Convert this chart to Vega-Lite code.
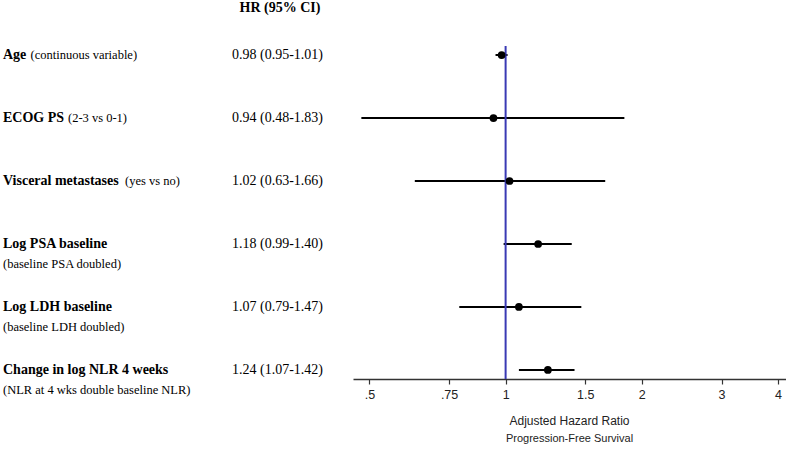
{
  "$schema": "https://vega.github.io/schema/vega-lite/v6.json",
  "padding": {"left": 0, "top": 1, "right": 0, "bottom": 0},
  "autosize": {"type": "pad"},
  "background": "white",
  "spacing": 0,
  "config": {"view": {"stroke": null}, "concat": {"spacing": 0}},
  "datasets": {
    "rows": [
      {"row": 0, "label": "Age", "note": "(continuous variable)", "inline": true, "hrText": "0.98 (0.95-1.01)", "hr": 0.98, "lo": 0.95, "hi": 1.01},
      {"row": 1, "label": "ECOG PS", "note": "(2-3 vs 0-1)", "inline": true, "hrText": "0.94 (0.48-1.83)", "hr": 0.94, "lo": 0.48, "hi": 1.83},
      {"row": 2, "label": "Visceral metastases", "note": "(yes vs no)", "inline": true, "hrText": "1.02 (0.63-1.66)", "hr": 1.02, "lo": 0.63, "hi": 1.66},
      {"row": 3, "label": "Log PSA baseline", "note": " (baseline PSA doubled)", "inline": false, "hrText": "1.18 (0.99-1.40)", "hr": 1.18, "lo": 0.99, "hi": 1.40},
      {"row": 4, "label": "Log LDH baseline", "note": "(baseline LDH doubled)", "inline": false, "hrText": "1.07 (0.79-1.47)", "hr": 1.07, "lo": 0.79, "hi": 1.47},
      {"row": 5, "label": "Change in log NLR 4 weeks", "note": "(NLR at 4 wks double baseline NLR)", "inline": false, "hrText": "1.24 (1.07-1.42)", "hr": 1.24, "lo": 1.07, "hi": 1.42}
    ]
  },
  "resolve": {"scale": {"x": "independent", "y": "independent"}},
  "hconcat": [
    {
      "width": 353,
      "height": 333,
      "data": {"name": "rows"},
      "layer": [
        {
          "mark": {"type": "text", "align": "left", "baseline": "middle", "font": "Liberation Serif", "fontSize": 14, "fontWeight": "bold", "color": "#000"},
          "encoding": {
            "x": {"datum": 3, "type": "quantitative", "scale": {"domain": [0, 353], "nice": false, "zero": false}, "axis": null},
            "y": {"field": "row", "type": "quantitative", "scale": {"domain": [-0.143, 5.143], "reverse": true, "nice": false, "zero": false}, "axis": null},
            "text": {"field": "label"}
          }
        },
        {
          "transform": [{"filter": "!datum.inline"}],
          "mark": {"type": "text", "align": "left", "baseline": "middle", "dy": 20, "font": "Liberation Serif", "fontSize": 12.5, "color": "#000"},
          "encoding": {
            "x": {"datum": 3, "type": "quantitative"},
            "y": {"field": "row", "type": "quantitative"},
            "text": {"field": "note"}
          }
        },
        {
          "transform": [{"filter": "datum.row == 0"}],
          "mark": {"type": "text", "align": "left", "baseline": "middle", "font": "Liberation Serif", "fontSize": 12.5, "color": "#000"},
          "encoding": {
            "x": {"datum": 30.5, "type": "quantitative"},
            "y": {"field": "row", "type": "quantitative"},
            "text": {"field": "note"}
          }
        },
        {
          "transform": [{"filter": "datum.row == 1"}],
          "mark": {"type": "text", "align": "left", "baseline": "middle", "font": "Liberation Serif", "fontSize": 12.5, "color": "#000"},
          "encoding": {
            "x": {"datum": 68, "type": "quantitative"},
            "y": {"field": "row", "type": "quantitative"},
            "text": {"field": "note"}
          }
        },
        {
          "transform": [{"filter": "datum.row == 2"}],
          "mark": {"type": "text", "align": "left", "baseline": "middle", "font": "Liberation Serif", "fontSize": 12.5, "color": "#000"},
          "encoding": {
            "x": {"datum": 125, "type": "quantitative"},
            "y": {"field": "row", "type": "quantitative"},
            "text": {"field": "note"}
          }
        },
        {
          "mark": {"type": "text", "align": "center", "baseline": "middle", "font": "Liberation Serif", "fontSize": 14, "color": "#000"},
          "encoding": {
            "x": {"datum": 277.5, "type": "quantitative"},
            "y": {"field": "row", "type": "quantitative"},
            "text": {"field": "hrText"}
          }
        },
        {
          "data": {"values": [{"h": "HR (95% CI)"}]},
          "mark": {"type": "text", "align": "center", "baseline": "middle", "font": "Liberation Serif", "fontSize": 14, "fontWeight": "bold", "color": "#000"},
          "encoding": {
            "x": {"datum": 280, "type": "quantitative"},
            "y": {"datum": -0.746, "type": "quantitative"},
            "text": {"field": "h"}
          }
        }
      ]
    },
    {
      "width": 433,
      "height": 333,
      "data": {"name": "rows"},
      "title": {
        "text": "Adjusted Hazard Ratio",
        "subtitle": "Progression-Free Survival",
        "orient": "bottom",
        "anchor": "middle",
        "font": "Liberation Sans",
        "fontSize": 12,
        "fontWeight": "normal",
        "color": "#222",
        "subtitleFont": "Liberation Sans",
        "subtitleFontSize": 11,
        "subtitleColor": "#222",
        "subtitlePadding": 5,
        "offset": 15
      },
      "layer": [
        {
          "mark": {"type": "rule", "color": "#000", "strokeWidth": 2},
          "encoding": {
            "x": {
              "field": "lo", "type": "quantitative",
              "scale": {"type": "log", "domain": [0.46, 4.165], "nice": false, "zero": false},
              "axis": {
                "values": [0.5, 0.75, 1, 1.5, 2, 3, 4],
                "labelExpr": "datum.value == 0.5 ? '.5' : datum.value == 0.75 ? '.75' : datum.label",
                "grid": false,
                "title": null,
                "domainColor": "#333",
                "domainWidth": 1.5,
                "tickColor": "#333",
                "tickWidth": 1.2,
                "tickSize": 5,
                "labelFont": "Liberation Sans",
                "labelFontSize": 12.5,
                "labelColor": "#222",
                "labelPadding": 4,
                "labelFlush": false,
                "labelOverlap": false
              }
            },
            "x2": {"field": "hi"},
            "y": {"field": "row", "type": "quantitative", "scale": {"domain": [-0.143, 5.143], "reverse": true, "nice": false, "zero": false}, "axis": null}
          }
        },
        {
          "data": {"values": [{"ref": 1}]},
          "mark": {"type": "rule", "color": "#3a3ab4", "strokeWidth": 2},
          "encoding": {
            "x": {"field": "ref", "type": "quantitative"}
          }
        },
        {
          "mark": {"type": "point", "filled": true, "color": "#000", "opacity": 1, "size": 60},
          "encoding": {
            "x": {"field": "hr", "type": "quantitative"},
            "y": {"field": "row", "type": "quantitative"}
          }
        }
      ]
    }
  ]
}
